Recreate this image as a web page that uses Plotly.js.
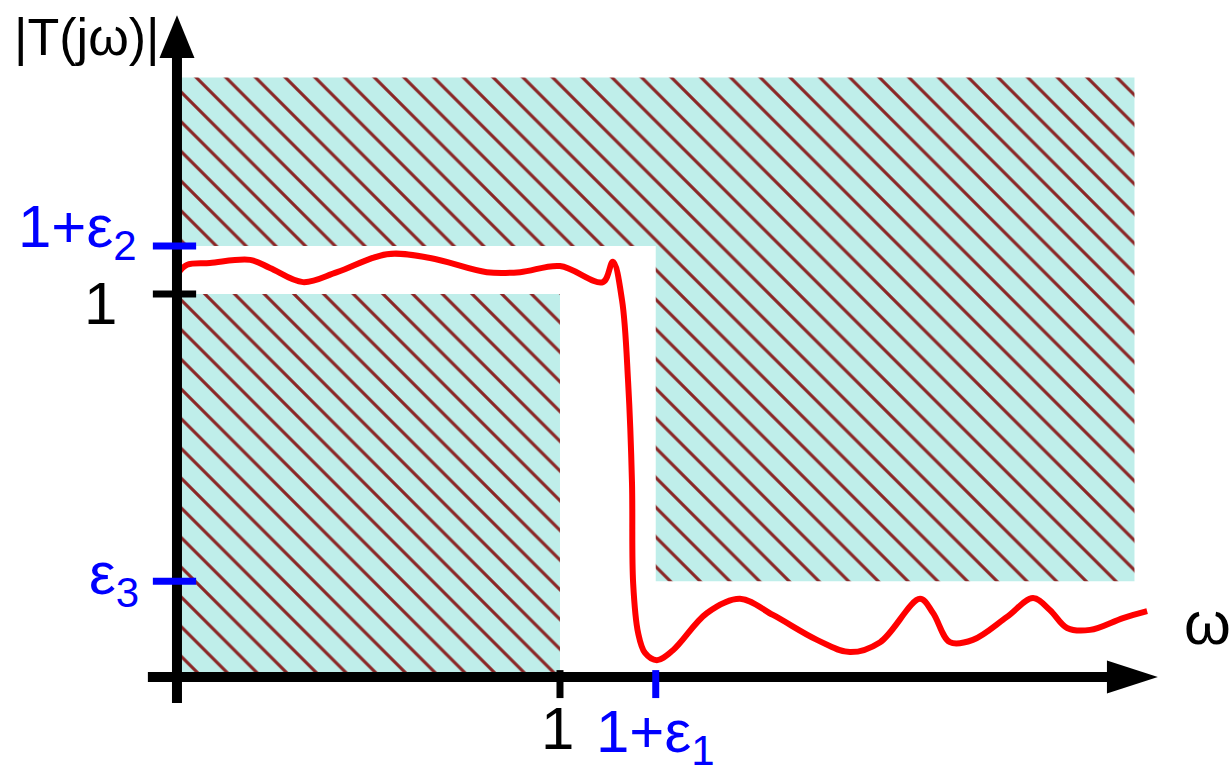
<!DOCTYPE html>
<html>
<head>
<meta charset="utf-8">
<script src="https://cdn.plot.ly/plotly-3.0.1.min.js"></script>
<style>html,body{margin:0;padding:0;background:#fff;}#chart{width:1232px;height:770px;}</style>
</head>
<body>
<div id="chart"></div>
<script>
// ---- data ----
const eps1 = 0.25;   // stopband edge offset  (1+ε1)
const eps2 = 0.125;  // passband ripple upper (1+ε2)
const eps3 = 0.25;   // stopband ripple (ε3)
const xMax = 2.5;    // right end of spec regions
const yTop = 1.565;  // top of spec region

const curveX = [0.0, 0.026, 0.086, 0.191, 0.243, 0.329, 0.418, 0.548, 0.661, 0.809, 0.896, 1.0, 1.112, 1.138, 1.162, 1.178, 1.188, 1.191, 1.204, 1.222, 1.253, 1.295, 1.384, 1.470, 1.556, 1.671, 1.757, 1.836, 1.940, 1.974, 2.018, 2.078, 2.167, 2.235, 2.279, 2.324, 2.384, 2.470, 2.533];
const curveY = [1.050, 1.076, 1.081, 1.089, 1.068, 1.031, 1.057, 1.104, 1.094, 1.057, 1.057, 1.073, 1.031, 1.084, 0.984, 0.768, 0.507, 0.245, 0.115, 0.063, 0.044, 0.070, 0.167, 0.204, 0.162, 0.097, 0.065, 0.091, 0.204, 0.167, 0.091, 0.097, 0.157, 0.206, 0.175, 0.128, 0.123, 0.154, 0.172];

const yTickVals = [1 + eps2, 1, eps3];
const yTickColors = ['#0000ff', '#000000', '#0000ff'];
const xTickVals = [1, 1 + eps1];
const xTickColors = ['#000000', '#0000ff'];

// ---- build ----
const hatch = {shape: '\\', size: 21, solidity: 0.15, fgcolor: '#8a2626', bgcolor: '#bfeeea', fillmode: 'replace'};

const upperRegion = {
  x: [0, xMax, xMax, 1 + eps1, 1 + eps1, 0, 0],
  y: [yTop, yTop, eps3, eps3, 1 + eps2, 1 + eps2, yTop],
  mode: 'lines', fill: 'toself', line: {width: 0, color: 'rgba(0,0,0,0)'},
  fillpattern: hatch, fillcolor: '#bfeeea', hoverinfo: 'skip', showlegend: false
};
const lowerRegion = {
  x: [0, 1, 1, 0, 0],
  y: [0, 0, 1, 1, 0],
  mode: 'lines', fill: 'toself', line: {width: 0, color: 'rgba(0,0,0,0)'},
  fillpattern: hatch, fillcolor: '#bfeeea', hoverinfo: 'skip', showlegend: false
};
const curve = {
  x: curveX, y: curveY, mode: 'lines',
  line: {color: '#ff0000', width: 6, shape: 'spline', smoothing: 1},
  hoverinfo: 'skip', showlegend: false
};

const shapes = [];
// axes
shapes.push({type: 'line', x0: 0, x1: 0, y0: -0.068, y1: 1.63, line: {color: '#000', width: 10}, layer: 'above'});
shapes.push({type: 'line', x0: -0.076, x1: 2.44, y0: 0, y1: 0, line: {color: '#000', width: 10}, layer: 'above'});
// arrow heads
shapes.push({type: 'path', path: 'M -0.0457 1.616 L 0.0457 1.616 L 0 1.728 Z', fillcolor: '#000', line: {width: 0}, layer: 'above'});
shapes.push({type: 'path', path: 'M 2.428 0.043 L 2.428 -0.043 L 2.561 0 Z', fillcolor: '#000', line: {width: 0}, layer: 'above'});
// ticks
yTickVals.forEach((v, i) => shapes.push({type: 'line', x0: -0.063, x1: 0.05, y0: v, y1: v, line: {color: yTickColors[i], width: 7}, layer: 'above'}));
xTickVals.forEach((v, i) => shapes.push({type: 'line', x0: v, x1: v, y0: 0.018, y1: -0.055, line: {color: xTickColors[i], width: 7}, layer: 'above'}));

const F = 'Liberation Sans, Arial, sans-serif';
const ann = (text, x, y, xa, ya, color, size) => ({text, x, y, xref: 'x', yref: 'y', xanchor: xa, yanchor: ya, showarrow: false, font: {family: F, size, color}});
const annotations = [
  ann('|T(jω)|', -0.43, 1.67, 'left', 'middle', '#000', 52),
  ann('1+ε<sub>2</sub>', -0.10, 1.165, 'right', 'middle', '#0000ff', 60),
  ann('1', -0.152, 0.975, 'right', 'middle', '#000', 60),
  ann('ε<sub>3</sub>', -0.095, 0.258, 'right', 'middle', '#0000ff', 60),
  ann('1', 0.993, -0.135, 'center', 'middle', '#000', 60),
  ann('1+ε<sub>1</sub>', 1.25, -0.155, 'center', 'middle', '#0000ff', 60),
  ann('ω', 2.69, 0.14, 'center', 'middle', '#000', 60)
];

const layout = {
  width: 1232, height: 770,
  margin: {l: 0, r: 0, t: 0, b: 0},
  paper_bgcolor: '#fff', plot_bgcolor: '#fff',
  xaxis: {range: [-0.4621, 2.7546], visible: false, fixedrange: true},
  yaxis: {range: [-0.2428, 1.7676], visible: false, fixedrange: true},
  shapes, annotations, showlegend: false
};

Plotly.newPlot('chart', [upperRegion, lowerRegion, curve], layout, {displayModeBar: false, staticPlot: true});
</script>
</body>
</html>
